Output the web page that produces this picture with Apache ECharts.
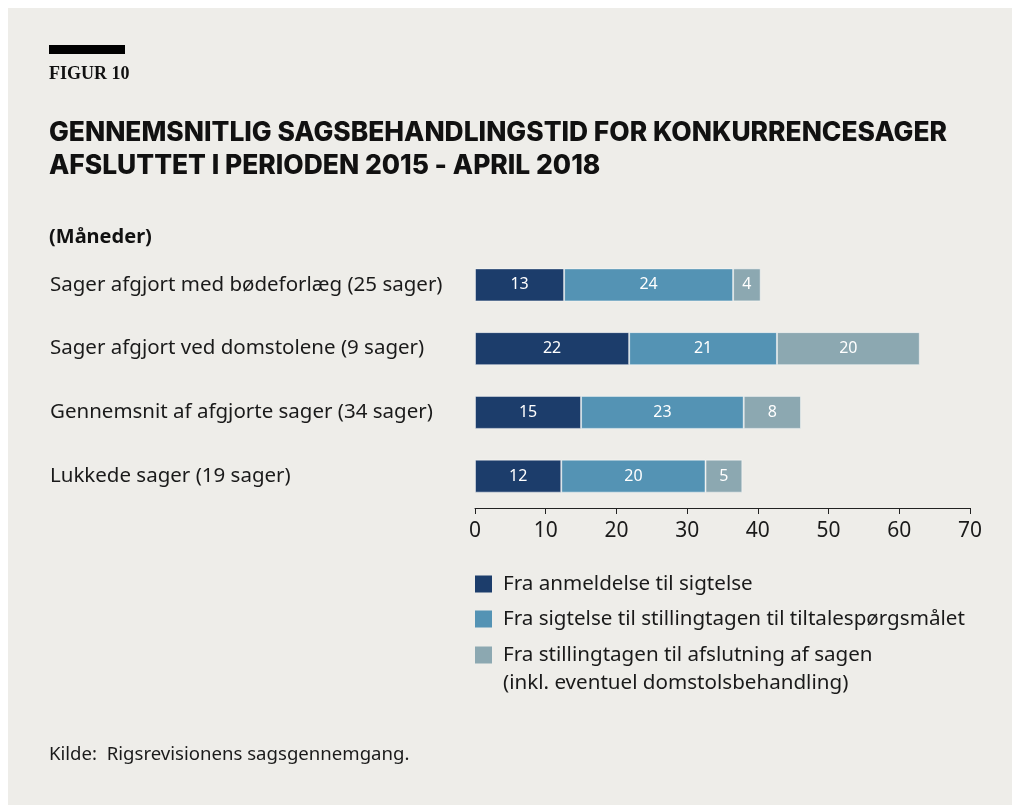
<!DOCTYPE html>
<html>
<head>
<meta charset="utf-8">
<script src="https://cdn.jsdelivr.net/npm/echarts@6/dist/echarts.min.js"></script>
<style>
  html, body { margin: 0; padding: 0; background: #ffffff; }
  #chart { width: 1012px; height: 805px; }
</style>
</head>
<body>
<div id="chart"></div>
<script>
// kategorier (oppefra og ned)
var categories = [
  "Sager afgjort med bødeforlæg (25 sager)",
  "Sager afgjort ved domstolene (9 sager)",
  "Gennemsnit af afgjorte sager (34 sager)",
  "Lukkede sager (19 sager)"
];
// måneder aflæst fra søjlerne
var anmeldelseTilSigtelse = [12.6, 21.8, 15.0, 12.2];
var sigtelseTilStillingtagen = [23.9, 20.9, 23.0, 20.4];
var stillingtagenTilAfslutning = [3.9, 20.2, 8.1, 5.2];
var xTicks = [0, 10, 20, 30, 40, 50, 60, 70];

var seriesNames = [
  "Fra anmeldelse til sigtelse",
  "Fra sigtelse til stillingtagen til tiltalespørgsmålet",
  "Fra stillingtagen til afslutning af sagen\n(inkl. eventuel domstolsbehandling)"
];
var colors = ["#1c3d6b", "#5493b4", "#8ca8b1"];
var seriesData = [anmeldelseTilSigtelse, sigtelseTilStillingtagen, stillingtagenTilAfslutning];

var font = "'Noto Sans', 'Open Sans', sans-serif";
var textColor = "#1a1a1a";

var chart = echarts.init(document.getElementById("chart"));

// egen forklaring (legend) tegnet som grafik
var legendGraphics = [];
var legendTops = [584, 619, 655];
seriesNames.forEach(function (name, i) {
  legendGraphics.push({
    type: "rect",
    shape: { x: 475, y: legendTops[i] - 8.5, width: 17, height: 17 },
    style: { fill: colors[i] }
  });
  legendGraphics.push({
    type: "text",
    left: 503,
    top: legendTops[i] - 14,
    style: {
      text: name,
      font: "20.6px " + font,
      fill: textColor,
      lineHeight: 28
    }
  });
});

var option = {
  animation: false,
  textStyle: { fontFamily: font },
  graphic: [
    {
      type: "rect",
      z: -10,
      shape: { x: 8, y: 8, width: 1004, height: 797 },
      style: { fill: "#eeede9" }
    },
    {
      type: "rect",
      shape: { x: 49, y: 45, width: 76, height: 9 },
      style: { fill: "#000000" }
    },
    {
      type: "text",
      left: 49,
      top: 65,
      style: {
        text: "FIGUR 10",
        font: "bold 18px 'Liberation Serif', 'DejaVu Serif', serif",
        fill: "#111111"
      }
    },
    {
      type: "text",
      left: 49,
      top: 117,
      style: {
        text: "GENNEMSNITLIG SAGSBEHANDLINGSTID FOR KONKURRENCESAGER\nAFSLUTTET I PERIODEN 2015 - APRIL 2018",
        font: "800 26.4px Inter, 'Noto Sans', sans-serif",
        fill: "#111111",
        lineHeight: 33
      }
    },
    {
      type: "text",
      left: 49,
      top: 227,
      style: {
        text: "(Måneder)",
        font: "bold 20px " + font,
        fill: "#111111"
      }
    },
    {
      type: "text",
      left: 49,
      top: 745,
      style: {
        text: "Kilde:  Rigsrevisionens sagsgennemgang.",
        font: "18.6px " + font,
        fill: textColor
      }
    }
  ].concat(legendGraphics),
  grid: {
    left: 475,
    top: 253,
    width: 495,
    height: 255,
    containLabel: false
  },
  xAxis: {
    type: "value",
    min: xTicks[0],
    max: xTicks[xTicks.length - 1],
    interval: 10,
    splitLine: { show: false },
    axisLine: { show: true, lineStyle: { color: "#222", width: 1 } },
    axisTick: { show: true, length: 6, lineStyle: { color: "#222" } },
    axisLabel: {
      color: textColor,
      fontSize: 21,
      margin: 13
    }
  },
  yAxis: {
    type: "category",
    inverse: true,
    data: categories,
    axisLine: { show: false },
    axisTick: { show: false },
    axisLabel: {
      align: "left",
      margin: 425,
      color: textColor,
      fontSize: 20.5
    }
  },
  series: seriesData.map(function (d, i) {
    return {
      name: seriesNames[i],
      type: "bar",
      stack: "tid",
      barWidth: 33,
      data: d,
      itemStyle: {
        color: colors[i],
        borderColor: "rgba(255,255,255,0.45)",
        borderWidth: 1
      },
      label: {
        show: true,
        position: "inside",
        color: "#ffffff",
        fontSize: 16,
        formatter: function (p) { return Math.round(p.value); }
      }
    };
  })
};

chart.setOption(option);
</script>
</body>
</html>
